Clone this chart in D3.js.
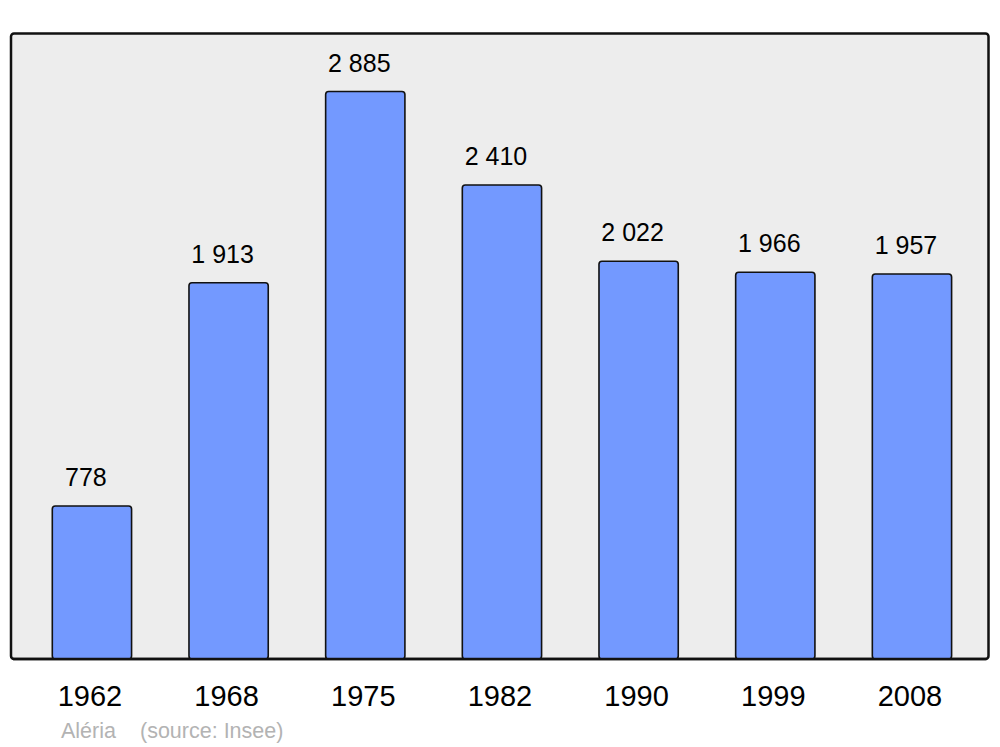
<html lang="fr">
    <head>
        <meta charset="utf-8">
        <title>Aléria population</title>
        <style>
            body {
                margin: 0;
                background-color: white;
                font-family: "Liberation Sans", Arial, sans-serif;
            }

            .frame {
                fill: #ededed;
                stroke: #111;
                stroke-width: 2.5;
            }

            .bar {
                fill: #7399ff;
                stroke: #111;
                stroke-width: 1.6;
            }

            .value {
                font-size: 25px;
                fill: black;
                text-anchor: middle;
            }

            .year {
                font-size: 29px;
                fill: black;
                text-anchor: middle;
            }

            .source {
                font-size: 21.5px;
                fill: #b3b3b3;
            }
        </style>
    </head>
    <body>
    </body>

    <script type="text/javascript" src="https://cdnjs.cloudflare.com/ajax/libs/d3/7.8.5/d3.min.js"></script>

    <script type="text/javascript">
        var years = ["1962", "1968", "1975", "1982", "1990", "1999", "2008"];
        var population = [778, 1913, 2885, 2410, 2022, 1966, 1957];
        var commune = "Aléria";
        var source = "(source: Insee)";

        var fullwidth = 1000;
        var fullheight = 747;

        var frame = { left: 11, top: 33.5, right: 988.5, bottom: 659 };

        var svg = d3.select("body")
                    .append("svg")
                    .attr("width", fullwidth)
                    .attr("height", fullheight);

        var xScale = d3.scaleBand()
                        .domain(years)
                        .range([23.6, 980.3])
                        .paddingInner(0.42)
                        .paddingOuter(0.21);

        var yScale = d3.scaleLinear()
                        .domain([0, 3180])
                        .range([frame.bottom, frame.top]);

        // grey plot area
        svg.append("rect")
            .attr("class", "frame")
            .attr("x", frame.left)
            .attr("y", frame.top)
            .attr("width", frame.right - frame.left)
            .attr("height", frame.bottom - frame.top)
            .attr("rx", 3)
            .attr("ry", 3);

        var data = years.map(function(y, i) {
            return { year: y, value: population[i] };
        });

        var fmt = function(v) {
            return d3.format(",")(v).replace(/,/g, " ");
        };

        // bars
        svg.selectAll(".bar")
            .data(data)
            .enter()
            .append("rect")
            .attr("class", "bar")
            .attr("x", function(d) { return xScale(d.year); })
            .attr("y", function(d) { return yScale(d.value); })
            .attr("width", xScale.bandwidth())
            .attr("height", function(d) { return frame.bottom - yScale(d.value); })
            .attr("rx", 3)
            .attr("ry", 3);

        // redraw bottom frame line over the bar bottoms
        svg.append("line")
            .attr("x1", frame.left + 2)
            .attr("x2", frame.right - 2)
            .attr("y1", frame.bottom)
            .attr("y2", frame.bottom)
            .attr("stroke", "#111")
            .attr("stroke-width", 2.5);

        // value labels
        svg.selectAll(".value")
            .data(data)
            .enter()
            .append("text")
            .attr("class", "value")
            .attr("x", function(d) { return xScale(d.year) + xScale.bandwidth() / 2 - 6; })
            .attr("y", function(d) { return yScale(d.value) - 20; })
            .text(function(d) { return fmt(d.value); });

        // year labels
        svg.selectAll(".year")
            .data(data)
            .enter()
            .append("text")
            .attr("class", "year")
            .attr("x", function(d) { return xScale(d.year) + xScale.bandwidth() / 2 - 2; })
            .attr("y", 706)
            .text(function(d) { return d.year; });

        svg.append("text")
            .attr("class", "source")
            .attr("x", 61)
            .attr("y", 738)
            .text(commune);

        svg.append("text")
            .attr("class", "source")
            .attr("x", 140)
            .attr("y", 738)
            .text(source);
    </script>
</html>
